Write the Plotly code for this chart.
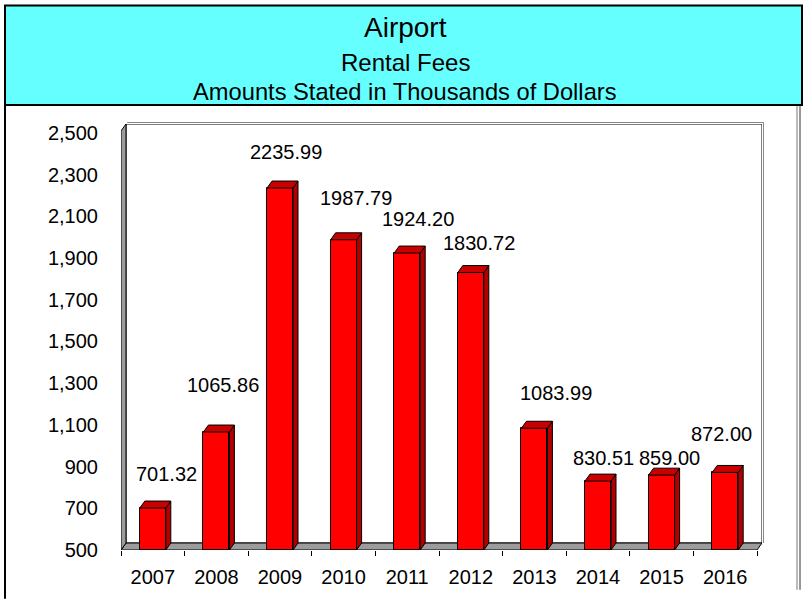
import plotly.graph_objects as go

# ---- data ----
years = ["2007", "2008", "2009", "2010", "2011", "2012", "2013", "2014", "2015", "2016"]
values = [701.32, 1065.86, 2235.99, 1987.79, 1924.20, 1830.72, 1083.99, 830.51, 859.00, 872.00]
y_ticks = [500, 700, 900, 1100, 1300, 1500, 1700, 1900, 2100, 2300, 2500]
title_lines = ["Airport", "Rental Fees", "Amounts Stated in Thousands of Dollars"]

# label placement tweaks (pixels)
label_dx = [14, 7, 5.5, 12, 11, 8, 22, 5.5, 7.5, -4]
label_dy = [34, 47, 36, 41.5, 34, 29.5, 35.5, 23.5, 17.5, 38]

# ---- geometry ----
W, H = 804, 600
L, R, T, B = 121, 762, 124, 552
Y0, Y1 = y_ticks[0], y_ticks[-1]
n = len(years)
cat_px = (757 - L) / n
ypx = (B - 133) / (Y1 - Y0)
DX = 5 / cat_px
DY = 7 / ypx
YTOP = Y1 + (133 - T) / ypx
BW = 26 / cat_px
FONT = "Liberation Sans, Arial, sans-serif"


def px(x):
    return (x - L) / (R - L)


def py(y):
    return (B - y) / (B - T)


idx = list(range(n))

fig = go.Figure()

# side faces
sx, sy = [], []
for i, v in zip(idx, values):
    xr = i + BW / 2
    sx += [xr, xr + DX, xr + DX, xr, xr, None]
    sy += [Y0, Y0 + DY, v + DY, v, Y0, None]
fig.add_trace(go.Scatter(x=sx, y=sy, mode="lines", fill="toself", fillcolor="#B00000",
                         line=dict(color="black", width=1), hoverinfo="skip", showlegend=False))
# top faces
tx, ty = [], []
for i, v in zip(idx, values):
    xl, xr = i - BW / 2, i + BW / 2
    tx += [xl, xr, xr + DX, xl + DX, xl, None]
    ty += [v, v, v + DY, v + DY, v, None]
fig.add_trace(go.Scatter(x=tx, y=ty, mode="lines", fill="toself", fillcolor="#C80000",
                         line=dict(color="black", width=1), hoverinfo="skip", showlegend=False))
# front faces
fig.add_trace(go.Bar(x=idx, y=[v - Y0 for v in values], base=Y0, width=BW,
                     marker=dict(color="#FF0000", line=dict(color="black", width=1)),
                     hoverinfo="skip", showlegend=False))

shapes = []
# back wall
shapes.append(dict(type="rect", xref="x", yref="y", x0=-0.5 + DX, x1=n - 0.5 + DX,
                   y0=Y0 + DY, y1=YTOP, fillcolor="white",
                   line=dict(color="black", width=1), layer="below"))
# floor
shapes.append(dict(type="path", xref="x", yref="y", layer="below",
                   path=f"M {-0.5},{Y0} L {n-0.5},{Y0} L {n-0.5+DX},{Y0+DY} L {-0.5+DX},{Y0+DY} Z",
                   fillcolor="#9C9C9C", line=dict(color="black", width=1)))
# left wall
shapes.append(dict(type="path", xref="x", yref="y", layer="below",
                   path=f"M {-0.5},{Y0} L {-0.5+DX},{Y0+DY} L {-0.5+DX},{YTOP} L {-0.5},{YTOP-DY} Z",
                   fillcolor="#9C9C9C", line=dict(color="black", width=1)))
# wall shadow
shapes.append(dict(type="path", xref="paper", yref="paper", layer="below",
                   path=f"M {px(127)},{py(122.5)} L {px(763.5)},{py(122.5)} L {px(763.5)},{py(545)}",
                   line=dict(color="#888888", width=1)))
# title box
shapes.append(dict(type="rect", xref="paper", yref="paper", x0=px(5), x1=px(802),
                   y0=py(105), y1=py(5), fillcolor="#66FFFF",
                   line=dict(color="black", width=2)))
# page frame
shapes.append(dict(type="line", xref="paper", yref="paper", x0=px(5), x1=px(5),
                   y0=py(105), y1=py(601), line=dict(color="black", width=2)))
shapes.append(dict(type="line", xref="paper", yref="paper", x0=px(797), x1=px(797),
                   y0=py(106), y1=py(592), line=dict(color="#777777", width=1)))
shapes.append(dict(type="line", xref="paper", yref="paper", x0=px(800), x1=px(800),
                   y0=py(106), y1=py(592), line=dict(color="#333333", width=1)))

annotations = []
for txt, yy, sz in zip(title_lines, [27, 62, 92], [28, 24, 23.7]):
    annotations.append(dict(text=txt, xref="paper", yref="paper", x=px(405), y=py(yy),
                            xanchor="center", yanchor="middle", showarrow=False,
                            font=dict(family=FONT, size=sz, color="black")))
for i, v, dx, dy in zip(idx, values, label_dx, label_dy):
    annotations.append(dict(text=f"{v:.2f}", x=i, y=v, xref="x", yref="y",
                            xshift=dx, yshift=dy, xanchor="center", yanchor="middle",
                            showarrow=False, font=dict(family=FONT, size=20, color="black")))

fig.update_layout(
    width=W, height=H,
    margin=dict(l=L, r=W - R, t=T, b=H - B, pad=0),
    paper_bgcolor="white", plot_bgcolor="rgba(0,0,0,0)",
    shapes=shapes, annotations=annotations, bargap=0,
    font=dict(family=FONT, size=20, color="black"),
)
fig.update_xaxes(range=[-0.5, n - 0.5 + DX], tickmode="array", tickvals=idx, ticktext=years,
                 showgrid=False, zeroline=False, showline=False, ticks="",
                 ticklabelstandoff=13,
                 minor=dict(tickmode="array", tickvals=[i - 0.5 for i in range(n + 1)],
                            ticks="outside", ticklen=5, tickcolor="black", tickwidth=1),
                 tickfont=dict(family=FONT, size=20, color="black"), fixedrange=True)
fig.update_yaxes(range=[Y0, YTOP], tickmode="array", tickvals=y_ticks,
                 tickformat=",", showgrid=False, zeroline=False, showline=False, ticks="",
                 ticklabelstandoff=22,
                 tickfont=dict(family=FONT, size=20, color="black"), fixedrange=True)

fig.write_html("out.html", config={"displayModeBar": False},
               post_script="document.body.style.margin='0';document.body.style.overflow='hidden';")
